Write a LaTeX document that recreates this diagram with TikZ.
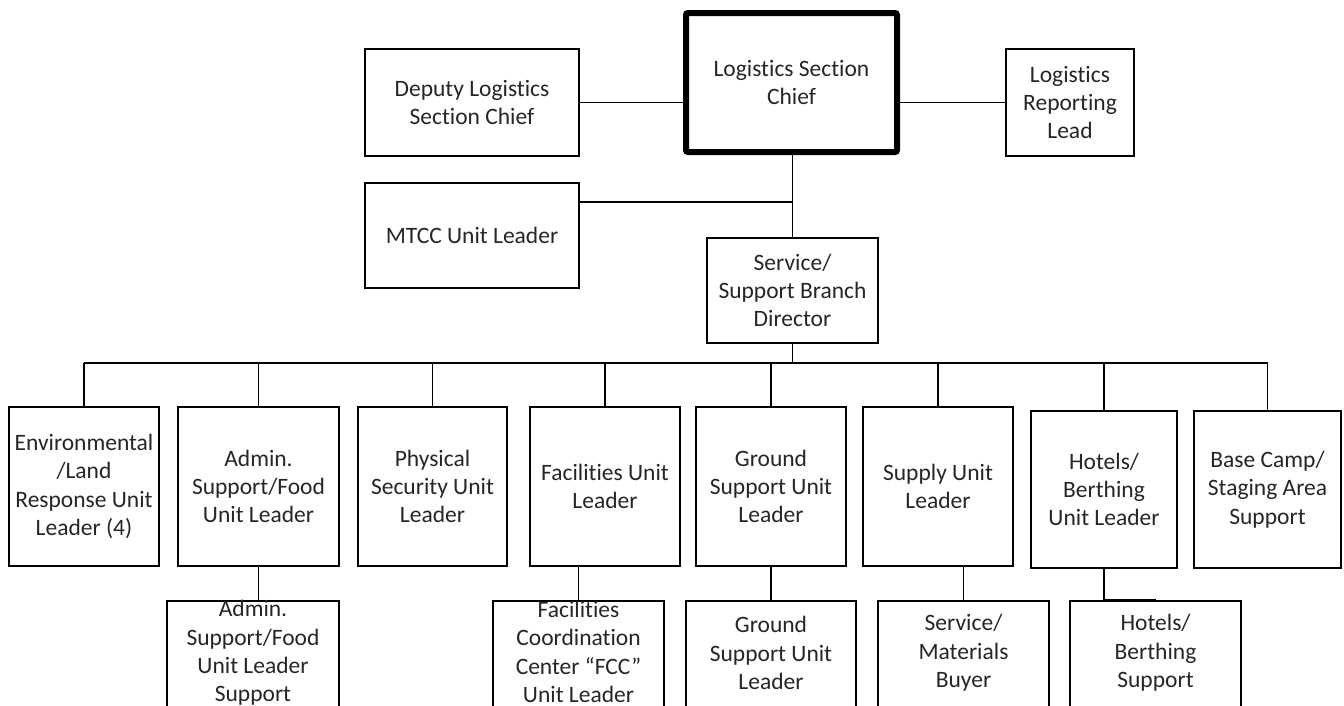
\documentclass[tikz,border=0pt]{standalone}
\usepackage{fontspec}
\setmainfont{Carlito}[Ligatures={TeX,NoCommon}]
\usetikzlibrary{positioning,calc}

\begin{document}
\begin{tikzpicture}[
    x=1pt, y=-1pt,
    unit/.style={rectangle, draw=black, line width=1.7pt, align=center, inner sep=2pt, font=\fontsize{23.5}{28.3}\selectfont, text=black!85},
    chiefbox/.style={unit, line width=6pt, rounded corners=2pt},
    rowunit/.style={unit, minimum width=150pt, minimum height=159pt},
    subunit/.style={rectangle, draw=black, line width=1.7pt, minimum width=171pt, minimum height=119pt},
    lbl/.style={align=center, inner sep=0pt, font=\fontsize{23.5}{28.3}\selectfont, text=black!85},
    link/.style={line width=1.7pt}
]
    \clip (0,0) rectangle (1344,705);
    \fill[white] (0,0) rectangle (1344,705);

    % Section chief and staff
    \node[chiefbox, minimum width=211pt, minimum height=139pt] (chief) at (791.5,82.5) {Logistics Section\\Chief};
    \node[unit, minimum width=214pt, minimum height=107pt] (deputy) at (472,102.5) {Deputy Logistics\\Section Chief};
    \node[unit, minimum width=128pt, minimum height=107pt] (report) at (1070,102.5) {Logistics\\Reporting\\Lead};
    \node[unit, minimum width=214pt, minimum height=105pt] (mtcc) at (472,235.5) {MTCC Unit Leader};
    \node[unit, minimum width=171pt, minimum height=105pt] (branch) at (792.5,290.5) {Service/\\Support Branch\\Director};

    % Unit leaders
    \node[rowunit] (env) at (84,486.5) {Environmental\\/Land\\Response Unit\\Leader (4)};
    \node[rowunit, minimum width=161pt] (admin) at (258.5,486.5) {Admin.\\Support/Food\\Unit Leader};
    \node[rowunit, minimum width=149pt] (phys) at (432.5,486.5) {Physical\\Security Unit\\Leader};
    \node[rowunit] (fac) at (605,486.5) {Facilities Unit\\Leader};
    \node[rowunit] (ground) at (771,486.5) {Ground\\Support Unit\\Leader};
    \node[rowunit] (supply) at (938,486.5) {Supply Unit\\Leader};
    \node[rowunit, minimum width=146pt, minimum height=157pt] (hotels) at (1104,489.5) {Hotels/\\Berthing\\Unit Leader};
    \node[rowunit, minimum width=147pt, minimum height=157pt] (base) at (1267.5,489.5) {Base Camp/\\Staging Area\\Support};

    % Support positions
    \node[subunit, minimum width=172pt] (admsup) at (253,660.5) {};
    \node[lbl] (admsup-txt) at (253,653) {Admin.\\Support/Food\\Unit Leader\\Support};
    \node[subunit] (fcc) at (578.5,660.5) {};
    \node[lbl] (fcc-txt) at (578.5,652) {Facilities\\Coordination\\Center “FCC”\\Unit Leader};
    \node[subunit, minimum width=170pt] (gsup) at (771,660.5) {};
    \node[lbl] (gsup-txt) at (771,653) {Ground\\Support Unit\\Leader};
    \node[subunit] (smb) at (963.5,660.5) {};
    \node[lbl] (smb-txt) at (963.5,653) {Service/\\Materials\\Buyer};
    \node[subunit] (hsup) at (1155.5,660.5) {};
    \node[lbl] (hsup-txt) at (1155.5,653) {Hotels/\\Berthing\\Support};

    % Lines - top
    \coordinate (mtcctee) at (792.5,202);
    \coordinate (bus) at (792.5,363);
    \draw[link] (deputy.east) -- (deputy.east -| chief.west);
    \draw[link] (chief.east |- report.west) -- (report.west);
    \draw[link] (branch.north |- chief.south) -- (branch.north);
    \draw[link] (mtcc.east |- mtcctee) -- (mtcctee);

    % Lines - unit leaders
    \draw[link] (branch.south) -- (bus);
    \draw[link] (env.north |- bus) -- (base.north |- bus);
    \foreach \u in {env,admin,phys,fac,ground,supply,hotels,base}
        \draw[link] (\u.north |- bus) -- (\u.north);

    % Lines - support positions
    \draw[link] (admin.south) -- (admin.south |- admsup.north);
    \draw[link] (fcc.north |- fac.south) -- (fcc.north);
    \draw[link] (ground.south) -- (gsup.north);
    \draw[link] (smb.north |- supply.south) -- (smb.north);
    \draw[link] (hotels.south) -- (hotels.south |- hsup.north);
    \draw[line width=3pt] (hotels.south |- hsup.north) -- (hsup.north);
\end{tikzpicture}
\end{document}
